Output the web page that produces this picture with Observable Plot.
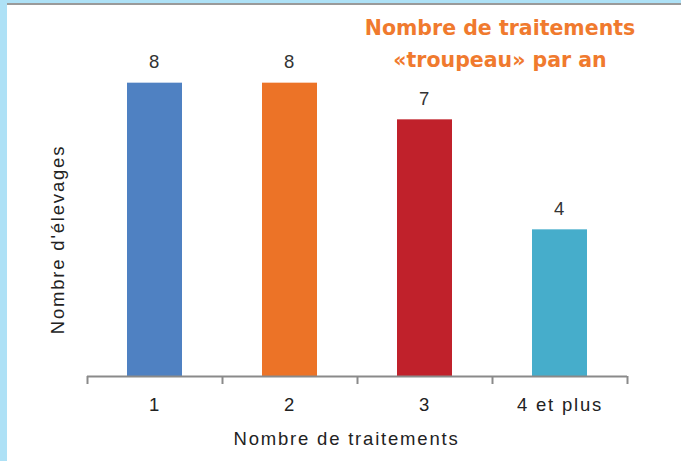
<!DOCTYPE html>
<html>
<head>
<meta charset="utf-8">
<script src="https://cdn.jsdelivr.net/npm/d3@7"></script>
<script src="https://cdn.jsdelivr.net/npm/@observablehq/plot@0.6"></script>
<style>
  html, body { margin: 0; padding: 0; background: #aee1f6; }
  #frame { position: relative; width: 681px; height: 461px; background: #aee1f6; overflow: hidden; }
  #panel { position: absolute; left: 7px; top: 3px; width: 674px; height: 456px; background: #fff; border-top: 2px solid #9a9a9a; }
  #title { position: absolute; left: 330px; width: 340px; top: 12px; text-align: center;
           font-family: "DejaVu Sans", sans-serif; font-weight: bold; font-size: 20.5px; line-height: 32px; color: #f07a2e; }
  #chart { position: absolute; left: 0; top: 0; }
</style>
</head>
<body>
<div id="frame">
  <div id="panel">
    <div id="chart"></div>
  </div>
  <div id="title">Nombre de traitements<br>«troupeau» par an</div>
</div>
<script>
const categories = ["1", "2", "3", "4 et plus"];
const values = [8, 8, 7, 4];
const colors = ["#4f81c2", "#ec7327", "#c0212b", "#46adcb"];
const xLabel = "Nombre de traitements";
const yLabel = "Nombre d'élevages";

const data = categories.map((c, i) => ({cat: c, value: values[i], color: colors[i]}));

const chart = Plot.plot({
  width: 674,
  height: 456,
  marginLeft: 80,
  marginRight: 54,
  marginTop: 41,
  marginBottom: 85,
  style: {fontFamily: "'Liberation Sans', Arial, sans-serif", fontSize: "18.5px", letterSpacing: "1.8px", color: "#222", background: "transparent"},
  x: {domain: categories, paddingInner: 0.59, paddingOuter: 0.295},
  y: {domain: [0, 9], axis: null},
  marks: [
    Plot.barY(data, {x: "cat", y: "value", fill: "color"}),
    Plot.ruleY([0], {stroke: "#8a8a8a", strokeWidth: 2}),
    Plot.ruleX(categories, {x: d => d, y1: 0, y2: 0, insetBottom: -8, dx: -67.5, stroke: "#8a8a8a", strokeWidth: 2}),
    Plot.ruleX(categories.slice(-1), {x: d => d, y1: 0, y2: 0, insetBottom: -8, dx: 67.5, stroke: "#8a8a8a", strokeWidth: 2}),
    Plot.axisX({tickSize: 0, tickPadding: 21, label: null, fontSize: 18.5, fill: "#222"}),
    Plot.text(data, {x: "cat", y: "value", text: d => String(d.value), dy: -21, fontSize: 18.5, fill: "#333"}),
    Plot.text([xLabel], {frameAnchor: "bottom", text: d => d, textAnchor: "middle", lineAnchor: "middle", dx: -11, dy: 63, fontSize: 18.5, fill: "#222"}),
    Plot.text([yLabel], {frameAnchor: "left", text: d => d, textAnchor: "middle", lineAnchor: "middle", rotate: -90, dx: -29, dy: 28, fontSize: 18.5, fill: "#222"})
  ]
});
document.getElementById("chart").appendChild(chart);
</script>
</body>
</html>
